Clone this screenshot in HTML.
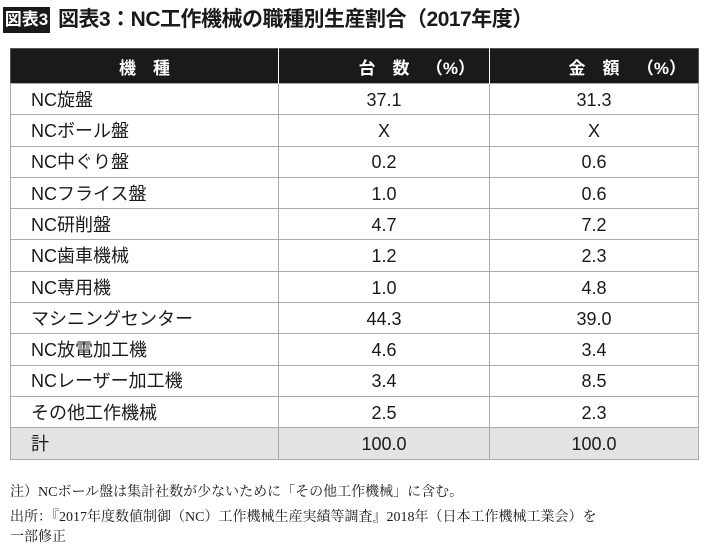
<!DOCTYPE html>
<html><head><meta charset="utf-8"><style>
body{margin:0;width:710px;height:545px;background:#fff;font-family:"Liberation Sans","Noto Sans CJK JP",sans-serif;position:relative;overflow:hidden;color:#1a1a1a}
.badge{position:absolute;left:3px;top:7px;width:47px;height:26px;background:#1a1a1a;color:#fff;font-weight:bold;font-size:17px;line-height:26px;text-align:center}
.title{position:absolute;left:58px;top:4px;font-size:21px;font-weight:bold;line-height:32px;letter-spacing:-0.5px}
table{position:absolute;left:10px;top:48px;width:688px;border-collapse:collapse;table-layout:fixed}
th{background:#1a1a1a;color:#fff;height:34px;font-size:17px;font-weight:bold;padding:0;border-left:1px solid #fff}
th:first-child{border-left:none}
td{height:30.3px;border:1px solid #aaa;font-size:18px;padding:0;text-align:center;vertical-align:middle;line-height:20px}
td span{display:inline-block;vertical-align:middle;line-height:20px}
td:first-child{text-align:left;padding-left:20px}
tr.total td{background:#e3e3e3}
table{border:1.5px solid #555}
.note{position:absolute;left:10px;font-family:"Liberation Serif","Noto Serif CJK SC",serif;font-size:14px}
</style></head><body>
<div class="badge">図表3</div>
<div class="title">図表3：NC工作機械の職種別生産割合（2017年度）</div>
<table>
<colgroup><col style="width:268px"><col style="width:211px"><col style="width:209px"></colgroup>
<thead><tr>
<th>機　種</th>
<th style="position:relative">台　数<span style="position:absolute;right:14px">（%）</span></th>
<th style="position:relative">金　額<span style="position:absolute;right:12px">（%）</span></th>
</tr></thead>
<tbody id="tb"></tbody>
</table>
<div class="note" style="top:481px">注）NCボール盤は集計社数が少ないために「その他工作機械」に含む。</div>
<div class="note" style="top:508px;line-height:20px">出所：『2017年度数値制御（NC）工作機械生産実績等調査』2018年（日本工作機械工業会）を<br>一部修正</div>
<script>
const categories=["NC旋盤","NCボール盤","NC中ぐり盤","NCフライス盤","NC研削盤","NC歯車機械","NC専用機","マシニングセンター","NC放電加工機","NCレーザー加工機","その他工作機械","計"];
const units=["37.1","X","0.2","1.0","4.7","1.2","1.0","44.3","4.6","3.4","2.5","100.0"];
const values=["31.3","X","0.6","0.6","7.2","2.3","4.8","39.0","3.4","8.5","2.3","100.0"];
const tb=document.getElementById('tb');
categories.forEach((c,i)=>{
  const tr=document.createElement('tr');
  
  
  if(i===categories.length-1)tr.className='total';
  [c,units[i],values[i]].forEach((v,j)=>{
    const td=document.createElement('td');
    
    
    const s=document.createElement('span');
    s.textContent=v;td.appendChild(s);tr.appendChild(td);
  });
  tb.appendChild(tr);
});
</script>
</body></html>
